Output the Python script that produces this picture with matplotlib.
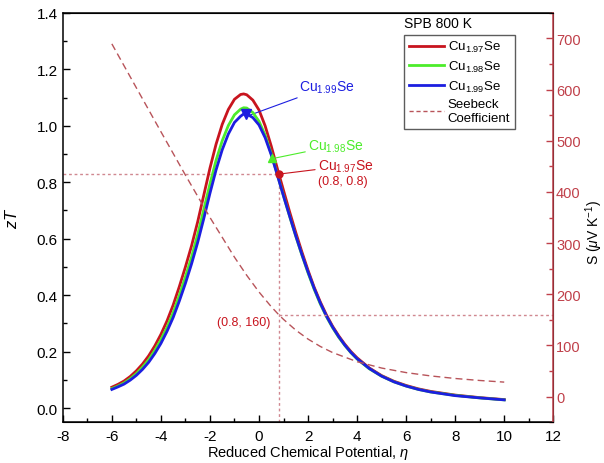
import matplotlib
matplotlib.use("Agg")
import matplotlib.pyplot as plt
from matplotlib.lines import Line2D
from matplotlib.ticker import MultipleLocator

plt.rcParams["font.family"] = ["Liberation Sans", "DejaVu Sans"]
plt.rcParams["mathtext.fontset"] = "custom"
plt.rcParams["mathtext.rm"] = "Liberation Sans"
plt.rcParams["mathtext.it"] = "Liberation Sans:italic"
plt.rcParams["axes.unicode_minus"] = False

# SPB model, 800 K: zT vs reduced chemical potential
eta = [-6, -5.75, -5.5, -5.25, -5, -4.75, -4.5, -4.25, -4, -3.75, -3.5,
       -3.25, -3, -2.75, -2.5, -2.25, -2, -1.75, -1.5, -1.25, -1, -0.75,
       -0.625, -0.5, -0.25, 0, 0.25, 0.5, 0.75, 1, 1.25, 1.5, 1.75, 2,
       2.25, 2.5, 2.75, 3, 3.25, 3.5, 3.75, 4, 4.5, 5, 5.5, 6, 6.5, 7,
       8, 9, 10]
zt_197 = [0.074, 0.084, 0.096, 0.112, 0.132, 0.156, 0.185, 0.220, 0.261,
          0.309, 0.365, 0.430, 0.500, 0.575, 0.660, 0.755, 0.850, 0.935,
          1.005, 1.058, 1.094, 1.111, 1.113, 1.110, 1.091, 1.056, 1.000,
          0.928, 0.848, 0.771, 0.695, 0.622, 0.553, 0.488, 0.428, 0.376,
          0.330, 0.290, 0.256, 0.226, 0.200, 0.178, 0.142, 0.115, 0.095,
          0.080, 0.068, 0.059, 0.046, 0.037, 0.030]
zt_198 = [0.069, 0.078, 0.089, 0.104, 0.122, 0.145, 0.171, 0.204, 0.242,
          0.286, 0.338, 0.399, 0.465, 0.535, 0.615, 0.704, 0.794, 0.878,
          0.947, 1.001, 1.039, 1.059, 1.064, 1.063, 1.047, 1.016, 0.967,
          0.901, 0.826, 0.752, 0.679, 0.609, 0.542, 0.479, 0.421, 0.369,
          0.324, 0.285, 0.251, 0.222, 0.196, 0.174, 0.139, 0.113, 0.093,
          0.078, 0.066, 0.057, 0.045, 0.036, 0.029]
zt_199 = [0.066, 0.075, 0.085, 0.099, 0.116, 0.137, 0.162, 0.193, 0.229,
          0.272, 0.321, 0.379, 0.442, 0.511, 0.587, 0.672, 0.761, 0.844,
          0.915, 0.971, 1.012, 1.034, 1.042, 1.042, 1.029, 1.003, 0.958,
          0.897, 0.825, 0.751, 0.680, 0.610, 0.544, 0.482, 0.424, 0.372,
          0.326, 0.287, 0.253, 0.223, 0.197, 0.175, 0.140, 0.113, 0.093,
          0.078, 0.066, 0.057, 0.044, 0.036, 0.029]

# Seebeck coefficient (uV/K)
eta_s = [-6, -5, -4, -3, -2, -1, -0.5, 0, 0.5, 0.8, 1, 1.5, 2, 2.5, 3, 4,
         5, 6, 7, 8, 9, 10]
seebeck = [689.5, 603.5, 517.8, 432.9, 350.2, 272.5, 237.0, 204.5, 175.7,
           160.3, 150.9, 129.9, 112.4, 98.0, 86.1, 68.2, 55.8, 46.9, 40.4,
           35.4, 31.5, 28.3]

# marked points
pt_197 = (0.8, 0.83)
pt_198 = (0.55, 0.886)
pt_199 = (-0.55, 1.042)
pt_s = (0.8, 160)

RED = "#c8141e"
GREEN = "#4cec2a"
BLUE = "#1c1ee0"
S_COL = "#b8545a"
GUIDE = "#d08890"
AX2 = "#c0404a"

fig = plt.figure(figsize=(6.04, 4.64), dpi=100)
ax = fig.add_axes([0.104, 0.088, 0.812, 0.882])
ax2 = ax.twinx()

ax.plot(eta, zt_197, color=RED, lw=2, zorder=3)
ax.plot(eta, zt_198, color=GREEN, lw=2, zorder=4)
ax.plot(eta, zt_199, color=BLUE, lw=2, zorder=5)

ax.plot(*pt_197, "o", color=RED, ms=5, zorder=6)
ax.plot(*pt_198, "^", color=GREEN, ms=6, zorder=6)
ax.plot(*pt_199, "v", color=BLUE, ms=7, zorder=6)

# guide lines
ax.plot([-8, pt_197[0]], [pt_197[1], pt_197[1]], ls=(0, (2, 2)), color=GUIDE, lw=1)
ax.plot([pt_197[0], pt_197[0]], [-0.05, pt_197[1]], ls=(0, (2, 2)), color=GUIDE, lw=1)
ax2.plot([pt_s[0], 12], [pt_s[1], pt_s[1]], ls=(0, (2, 2)), color=GUIDE, lw=1)

ax2.plot(eta_s, seebeck, ls=(0, (5, 3)), color=S_COL, lw=1)

# annotations
ax.annotate("Cu$_{1.99}$Se", xy=(pt_199[0] + 0.15, pt_199[1] - 0.005),
            xytext=(1.65, 1.138), color=BLUE, fontsize=10, va="center",
            arrowprops=dict(arrowstyle="-", color=BLUE, lw=0.8,
                            shrinkA=0, shrinkB=0))
ax.annotate("Cu$_{1.98}$Se", xy=(pt_198[0] + 0.12, pt_198[1]),
            xytext=(2.0, 0.93), color=GREEN, fontsize=10, va="center",
            arrowprops=dict(arrowstyle="-", color=GREEN, lw=0.8,
                            shrinkA=0, shrinkB=0))
ax.annotate("Cu$_{1.97}$Se", xy=(pt_197[0] + 0.12, pt_197[1]),
            xytext=(2.4, 0.858), color=RED, fontsize=10, va="center",
            arrowprops=dict(arrowstyle="-", color=RED, lw=0.8,
                            shrinkA=0, shrinkB=0))
ax.text(2.4, 0.805, "(0.8, 0.8)", color=RED, fontsize=9, va="center")
ax2.text(0.45, 146, "(0.8, 160)", color=RED, fontsize=9, va="center", ha="right")

# axes
ax.set_xlim(-8, 12)
ax.set_ylim(-0.05, 1.4)
ax2.set_ylim(-50, 750)
ax.xaxis.set_major_locator(MultipleLocator(2))
ax.xaxis.set_minor_locator(MultipleLocator(1))
ax.yaxis.set_major_locator(MultipleLocator(0.2))
ax.yaxis.set_minor_locator(MultipleLocator(0.1))
ax.yaxis.set_major_formatter(plt.FormatStrFormatter("%.1f"))
ax2.yaxis.set_major_locator(MultipleLocator(100))
ax2.yaxis.set_minor_locator(MultipleLocator(50))

ax.tick_params(which="both", direction="in", top=False, labelsize=11)
ax.tick_params(axis="x", pad=5)
ax.tick_params(which="major", length=5, width=1)
ax.tick_params(which="minor", length=3, width=1)
ax2.tick_params(which="both", direction="in", colors=AX2, labelsize=10.5, pad=2)
ax2.tick_params(which="major", length=5, width=1)
ax2.tick_params(which="minor", length=3, width=1)
for sp in ["left", "bottom", "top"]:
    ax.spines[sp].set_linewidth(1.1)
ax2.spines["right"].set_color(AX2)
ax2.spines["right"].set_linewidth(1.1)
ax2.spines["left"].set_visible(False)

ax.set_xlabel("Reduced Chemical Potential, $\\eta$", fontsize=10.5, labelpad=0)
ax.set_ylabel("$zT$", fontsize=12, labelpad=12)
# right-hand label placed directly so it stays inside the canvas
fig.text(0.983, 0.5, "S ($\\mu$V K$^{-1}$)", fontsize=10, rotation=90,
         ha="center", va="center")

# legend
handles = [
    Line2D([], [], color=RED, lw=2),
    Line2D([], [], color=GREEN, lw=2),
    Line2D([], [], color=BLUE, lw=2),
    Line2D([], [], color=S_COL, lw=1, ls=(0, (3, 2))),
]
labels = ["Cu$_{1.97}$Se", "Cu$_{1.98}$Se", "Cu$_{1.99}$Se", "Seebeck\nCoefficient"]
leg = ax.legend(handles, labels, loc="upper left", bbox_to_anchor=(0.696, 0.947),
                fontsize=9.5, frameon=True, fancybox=False, handlelength=2.7,
                handletextpad=0.25, borderpad=0.35, labelspacing=0.35,
                borderaxespad=0)
leg.get_frame().set_edgecolor("#333333")
leg.get_frame().set_linewidth(1)
ax.text(0.696, 0.958, "SPB 800 K", transform=ax.transAxes, fontsize=10,
        va="bottom", ha="left")

fig.savefig("out.png", dpi=100)
